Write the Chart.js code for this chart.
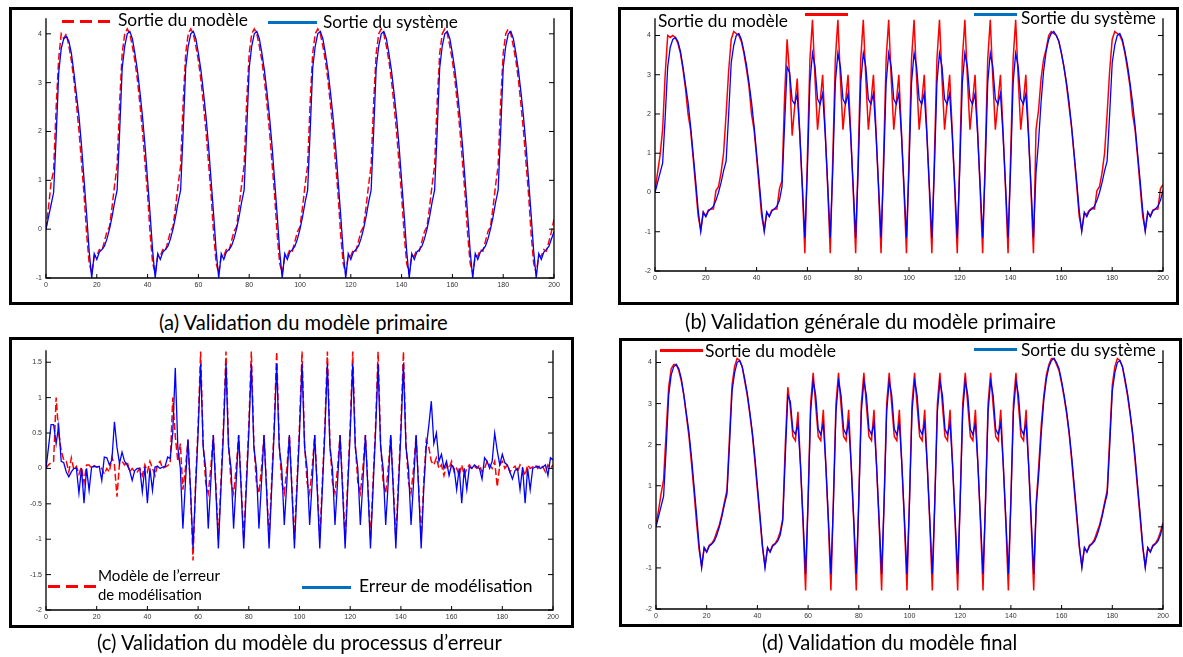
<!DOCTYPE html>
<html lang="fr">
<head>
<meta charset="UTF-8">
<title>Validation des modèles</title>
<script src="https://cdn.jsdelivr.net/npm/chart.js"></script>
<style>
  body { margin: 0; background: #fff; width: 1183px; height: 657px; position: relative; overflow: hidden; font-family: Lato, "Open Sans", sans-serif; }
  .cadre { position: absolute; border: 3px solid #000; box-sizing: border-box; }
  canvas { position: absolute; }
  .txt { position: absolute; white-space: nowrap; line-height: 1; color: #000; transform: translateY(-55%); }
  .trait { position: absolute; height: 3px; }
</style>
</head>
<body>

<div class="cadre" style="left:9px;top:7px;width:564px;height:298px"></div>
<div class="cadre" style="left:618px;top:7px;width:561px;height:298px"></div>
<div class="cadre" style="left:9px;top:337px;width:565px;height:291px"></div>
<div class="cadre" style="left:619px;top:338px;width:563px;height:289px"></div>

<canvas id="chartA"></canvas>
<canvas id="chartB"></canvas>
<canvas id="chartC"></canvas>
<canvas id="chartD"></canvas>

<!-- légendes -->
<div class="trait" style="left:62px;top:20px;width:48px;background:repeating-linear-gradient(to right,#f00 0 12px,transparent 12px 18px)"></div>
<div class="txt" data-w="130" style="left:118px;top:21px">Sortie du modèle</div>
<div class="trait" style="left:268px;top:21px;width:49px;background:#0070c0"></div>
<div class="txt" data-w="135" style="left:323px;top:22px">Sortie du système</div>

<div class="txt" data-w="130" style="left:658px;top:22px">Sortie du modèle</div>
<div class="trait" style="left:805px;top:13px;width:43px;background:#f00"></div>
<div class="trait" style="left:974px;top:13px;width:43px;background:#0070c0"></div>
<div class="txt" data-w="135" style="left:1021px;top:18px">Sortie du système</div>

<div class="trait" style="left:48px;top:585px;width:48px;background:repeating-linear-gradient(to right,#f00 0 12px,transparent 12px 18px)"></div>
<div class="txt" data-w="122" style="left:98px;top:576px">Modèle de l’erreur</div>
<div class="txt" data-w="104" style="left:98px;top:595px">de modélisation</div>
<div class="trait" style="left:302px;top:586px;width:49px;background:#0070c0"></div>
<div class="txt" data-w="174" style="left:359px;top:587px">Erreur de modélisation</div>

<div class="trait" style="left:660px;top:349px;width:43px;background:#f00"></div>
<div class="txt" data-w="131" style="left:705px;top:352px">Sortie du modèle</div>
<div class="trait" style="left:974px;top:348px;width:43px;background:#0070c0"></div>
<div class="txt" data-w="135" style="left:1021px;top:350px">Sortie du système</div>

<!-- légendes des sous-figures -->
<div class="txt legende" style="left:159px;top:323px">(a) Validation du modèle primaire</div>
<div class="txt legende" data-w="372" style="left:685px;top:322px">(b) Validation générale du modèle primaire</div>
<div class="txt legende" style="left:97px;top:643px">(c) Validation du modèle du processus d’erreur</div>
<div class="txt legende" style="left:762px;top:643px">(d) Validation du modèle final</div>

<script>
    // ticks
    const xTicks = [0, 20, 40, 60, 80, 100, 120, 140, 160, 180, 200];
    const yTicksA = [-1, 0, 1, 2, 3, 4];
    const yTicksB = [-2, -1, 0, 1, 2, 3, 4];
    const yTicksC = [-2, -1.5, -1, -0.5, 0, 0.5, 1, 1.5];
    const yTicksD = [-2, -1, 0, 1, 2, 3, 4];

    // (a) sortie du système / du modèle primaire
    const sortieSystemeA = [
        0, 0.25, 0.5, 0.75, 1.9, 3.2, 3.7, 3.9, 3.95, 3.85, 3.6, 3.2, 2.75, 2.3, 1.7, 1.0, 0.3, -0.45, -1.0, -0.5, -0.62, -0.47, -0.42, -0.35, -0.2,
        0, 0.25, 0.55, 0.8, 2.0, 3.3, 3.75, 4.0, 4.05, 3.9, 3.6, 3.25, 2.8, 2.3, 1.7, 1.0, 0.3, -0.45, -1.0, -0.5, -0.62, -0.47, -0.42, -0.35, -0.2,
        0, 0.25, 0.55, 0.8, 2.0, 3.3, 3.75, 4.0, 4.05, 3.9, 3.6, 3.25, 2.8, 2.3, 1.7, 1.0, 0.3, -0.45, -1.0, -0.5, -0.62, -0.47, -0.42, -0.35, -0.2,
        0, 0.25, 0.55, 0.8, 2.0, 3.3, 3.75, 4.0, 4.05, 3.9, 3.6, 3.25, 2.8, 2.3, 1.7, 1.0, 0.3, -0.45, -1.0, -0.5, -0.62, -0.47, -0.42, -0.35, -0.2,
        0, 0.25, 0.55, 0.8, 2.0, 3.3, 3.75, 4.0, 4.05, 3.9, 3.6, 3.25, 2.8, 2.3, 1.7, 1.0, 0.3, -0.45, -1.0, -0.5, -0.62, -0.47, -0.42, -0.35, -0.2,
        0, 0.25, 0.55, 0.8, 2.0, 3.3, 3.75, 4.0, 4.05, 3.9, 3.6, 3.25, 2.8, 2.3, 1.7, 1.0, 0.3, -0.45, -1.0, -0.5, -0.62, -0.47, -0.42, -0.35, -0.2,
        0, 0.25, 0.55, 0.8, 2.0, 3.3, 3.75, 4.0, 4.05, 3.9, 3.6, 3.25, 2.8, 2.3, 1.7, 1.0, 0.3, -0.45, -1.0, -0.5, -0.62, -0.47, -0.42, -0.35, -0.2,
        0, 0.25, 0.55, 0.8, 2.0, 3.3, 3.75, 4.0, 4.05, 3.9, 3.6, 3.25, 2.8, 2.3, 1.7, 1.0, 0.3, -0.45, -1.0, -0.5, -0.62, -0.47, -0.42, -0.35, -0.2,
        -0.05
    ];
    const sortieModeleA = [
        0, 0.45, 0.95, 1.2, 2.5, 3.5, 4.0, 3.9, 4.0, 3.75, 3.45, 3.05, 2.55, 2.0, 1.35, 0.7, -0.1, -0.7, -0.9, -0.55, -0.55, -0.42, -0.45, -0.25, -0.05,
        0.05, 0.45, 0.9, 1.3, 2.6, 3.6, 4.0, 4.1, 4.0, 3.75, 3.45, 3.05, 2.55, 2.0, 1.35, 0.7, -0.1, -0.7, -0.9, -0.55, -0.55, -0.42, -0.45, -0.25, -0.05,
        0.05, 0.45, 0.9, 1.3, 2.6, 3.6, 4.0, 4.1, 4.0, 3.75, 3.45, 3.05, 2.55, 2.0, 1.35, 0.7, -0.1, -0.7, -0.9, -0.55, -0.55, -0.42, -0.45, -0.25, -0.05,
        0.05, 0.45, 0.9, 1.3, 2.6, 3.6, 4.0, 4.1, 4.0, 3.75, 3.45, 3.05, 2.55, 2.0, 1.35, 0.7, -0.1, -0.7, -0.9, -0.55, -0.55, -0.42, -0.45, -0.25, -0.05,
        0.05, 0.45, 0.9, 1.3, 2.6, 3.6, 4.0, 4.1, 4.0, 3.75, 3.45, 3.05, 2.55, 2.0, 1.35, 0.7, -0.1, -0.7, -0.9, -0.55, -0.55, -0.42, -0.45, -0.25, -0.05,
        0.05, 0.45, 0.9, 1.3, 2.6, 3.6, 4.0, 4.1, 4.0, 3.75, 3.45, 3.05, 2.55, 2.0, 1.35, 0.7, -0.1, -0.7, -0.9, -0.55, -0.55, -0.42, -0.45, -0.25, -0.05,
        0.05, 0.45, 0.9, 1.3, 2.6, 3.6, 4.0, 4.1, 4.0, 3.75, 3.45, 3.05, 2.55, 2.0, 1.35, 0.7, -0.1, -0.7, -0.9, -0.55, -0.55, -0.42, -0.45, -0.25, -0.05,
        0.05, 0.45, 0.9, 1.3, 2.6, 3.6, 4.0, 4.1, 4.0, 3.75, 3.45, 3.05, 2.55, 2.0, 1.35, 0.7, -0.1, -0.7, -0.9, -0.55, -0.55, -0.42, -0.45, -0.25, -0.05,
        0.2
    ];

    // (b) et (d) : sortie du système
    const sortieSystemeB = [
        0, 0.25, 0.5, 0.75, 1.9, 3.2, 3.7, 3.9, 3.95, 3.85, 3.6, 3.2, 2.75, 2.3, 1.7, 1.0, 0.3, -0.45, -1.0, -0.5, -0.62, -0.47, -0.42, -0.35, -0.2,
        0, 0.25, 0.55, 0.8, 2.0, 3.3, 3.75, 4.0, 4.05, 3.9, 3.6, 3.25, 2.8, 2.3, 1.7, 1.0, 0.3, -0.45, -1.0, -0.5, -0.62, -0.47, -0.42, -0.35, -0.2,
        0.15, 1.7, 3.2, 3.05, 2.35, 2.25, 2.5, 1.5, 0.2, -1.15,
        0.6, 2.8, 3.55, 3.2, 2.38, 2.25, 2.52, 1.5, 0.2, -1.15,
        0.6, 2.8, 3.55, 3.2, 2.38, 2.25, 2.52, 1.5, 0.2, -1.15,
        0.6, 2.8, 3.55, 3.2, 2.38, 2.25, 2.52, 1.5, 0.2, -1.15,
        0.6, 2.8, 3.55, 3.2, 2.38, 2.25, 2.52, 1.5, 0.2, -1.15,
        0.6, 2.8, 3.55, 3.2, 2.38, 2.25, 2.52, 1.5, 0.2, -1.15,
        0.6, 2.8, 3.55, 3.2, 2.38, 2.25, 2.52, 1.5, 0.2, -1.15,
        0.6, 2.8, 3.55, 3.2, 2.38, 2.25, 2.52, 1.5, 0.2, -1.15,
        0.6, 2.8, 3.55, 3.2, 2.38, 2.25, 2.52, 1.5, 0.2, -1.15,
        0.6, 2.8, 3.55, 3.2, 2.38, 2.25, 2.52, 1.5, 0.2, -1.15,
        0.5, 1.3, 2.3, 3.1, 3.6, 3.9, 4.05, 4.1, 4.0, 3.85, 3.55, 3.2, 2.8, 2.3, 1.7, 1.0, 0.3, -0.45, -1.0, -0.5, -0.62, -0.47, -0.42, -0.35, -0.2,
        0, 0.25, 0.55, 0.8, 2.0, 3.3, 3.75, 4.0, 4.05, 3.9, 3.6, 3.25, 2.8, 2.3, 1.7, 1.0, 0.3, -0.45, -1.0, -0.5, -0.62, -0.47, -0.42, -0.35, -0.2,
        0.05
    ];
    // (b) sortie du modèle primaire
    const sortieModeleB = [
        0.05, 0.5, 0.95, 1.6, 3.0, 4.0, 3.95, 4.0, 3.95, 3.8, 3.55, 3.15, 2.65, 2.0, 1.6, 0.9, 0.15, -0.6, -0.95, -0.5, -0.6, -0.45, -0.42, -0.42, 0.05,
        0.15, 0.5, 1.0, 2.0, 3.1, 3.9, 4.1, 4.05, 4.0, 3.85, 3.55, 3.15, 2.7, 2.0, 1.6, 0.9, 0.15, -0.6, -0.95, -0.5, -0.6, -0.45, -0.42, -0.42, 0.1,
        0.3, 2.4, 3.9, 3.0, 1.45, 2.2, 2.9, 1.5, 0.1, -1.55,
        0.9, 3.4, 4.4, 2.9, 1.6, 2.3, 3.0, 1.6, 0.1, -1.55,
        0.9, 3.4, 4.4, 2.9, 1.6, 2.3, 3.0, 1.6, 0.1, -1.55,
        0.9, 3.4, 4.4, 2.9, 1.6, 2.3, 3.0, 1.6, 0.1, -1.55,
        0.9, 3.4, 4.4, 2.9, 1.6, 2.3, 3.0, 1.6, 0.1, -1.55,
        0.9, 3.4, 4.4, 2.9, 1.6, 2.3, 3.0, 1.6, 0.1, -1.55,
        0.9, 3.4, 4.4, 2.9, 1.6, 2.3, 3.0, 1.6, 0.1, -1.55,
        0.9, 3.4, 4.4, 2.9, 1.6, 2.3, 3.0, 1.6, 0.1, -1.55,
        0.9, 3.4, 4.4, 2.9, 1.6, 2.3, 3.0, 1.6, 0.1, -1.55,
        0.9, 3.4, 4.4, 2.9, 1.6, 2.3, 3.0, 1.6, 0.1, -1.55,
        1.6, 2.1, 2.9, 3.4, 3.65, 4.0, 4.1, 4.05, 4.0, 3.85, 3.55, 3.2, 2.75, 2.2, 1.65, 0.95, 0.2, -0.6, -0.95, -0.55, -0.55, -0.45, -0.4, -0.42, 0.05,
        0.15, 0.5, 1.0, 2.0, 3.1, 3.9, 4.1, 4.05, 4.0, 3.85, 3.55, 3.15, 2.7, 2.0, 1.6, 0.9, 0.15, -0.6, -0.95, -0.5, -0.6, -0.45, -0.42, -0.42, 0.1,
        0.2
    ];

    // (c) erreur de modélisation / modèle de l'erreur
    const erreurC = [
        0, 0.3, 0.62, 0.62, 0.35, 0.6, 0.1, 0.08, -0.05, -0.12, -0.05, 0.0, 0.0, -0.35, 0.0, -0.49, 0.0, -0.31, 0.02, 0.03,
        0.02, 0.03, -0.17, 0.16, 0.15, 0.05, 0.12, 0.66, 0.3, 0.07, 0.23, 0.1, 0.05, -0.03, -0.17, -0.03, 0.0, 0.0, -0.33, 0.02,
        -0.49, 0.0, -0.31, 0.02, 0.03, 0.0, 0.02, 0.03, 0.16, 0.14, 0.5,
        1.42, 0.3, 0.0, -0.85, -0.2, 0.41, -0.3, -1.13, -0.3, 0.5,
        1.48, 0.3, 0.0, -0.85, -0.2, 0.47, -0.3, -1.13, -0.3, 0.5,
        1.48, 0.3, 0.0, -0.85, -0.2, 0.47, -0.3, -1.13, -0.3, 0.5,
        1.48, 0.3, 0.0, -0.85, -0.2, 0.47, -0.3, -1.13, -0.3, 0.5,
        1.48, 0.3, 0.0, -0.8, -0.2, 0.47, -0.3, -1.13, -0.3, 0.5,
        1.48, 0.3, 0.0, -0.8, -0.2, 0.47, -0.3, -1.13, -0.3, 0.5,
        1.48, 0.3, 0.0, -0.8, -0.2, 0.47, -0.3, -1.13, -0.3, 0.5,
        1.48, 0.3, 0.0, -0.8, -0.2, 0.47, -0.3, -1.13, -0.3, 0.5,
        1.48, 0.3, 0.0, -0.8, -0.2, 0.47, -0.3, -1.13, -0.3, 0.5,
        1.48, 0.3, 0.0, -0.8, -0.2, 0.47, -0.3, -1.13, -0.3, 0.3,
        0.6, 0.95, 0.35, 0.5, 0.1, 0.2, 0.0, 0.1, -0.1, 0.05, 0.0, -0.3, 0.0, -0.49, 0.0, -0.3, 0.02, 0.0, 0.05, 0.02,
        0.0, -0.15, 0.15, 0.1, 0.0, 0.1, 0.5, 0.25, 0.05, 0.2, 0.08, 0.05, -0.05, -0.15, -0.03, 0.0, -0.3, 0.02, -0.49, 0.0,
        -0.3, 0.0, 0.02, 0.03, 0.0, 0.02, 0.05, -0.1, 0.15, 0.12
    ];
    const modeleErreurC = [
        0.0, 0.05, 0.08, 0.1, 1.0, 0.5, 0.25, 0.12, 0.1, -0.05, 0.15, -0.02, 0.03, -0.08, 0.02, -0.2, 0.05, 0.05, 0.0, 0.04,
        0.02, 0.03, 0.0, -0.08, 0.0, -0.05, 0.16, 0.05, -0.4, 0.07, 0.1, 0.05, 0.1, -0.05, 0.0, -0.05, -0.05, 0.0, -0.1, 0.05,
        -0.05, 0.1, 0.0, -0.1, 0.05, 0.1, 0.0, 0.02, 0.04, 0.07, 1.0,
        0.45, 0.1, 0.35, -0.3, 0.0, 0.4, -0.3, -1.3, -0.2, 0.6,
        1.65, 0.35, -0.2, -0.35, 0.0, 0.47, -0.25, -1.0, -0.2, 0.6,
        1.65, 0.35, -0.2, -0.35, 0.0, 0.47, -0.25, -1.0, -0.2, 0.6,
        1.65, 0.35, -0.2, -0.35, 0.0, 0.47, -0.25, -1.0, -0.2, 0.6,
        1.65, 0.35, -0.2, -0.35, 0.0, 0.47, -0.25, -1.0, -0.2, 0.6,
        1.65, 0.35, -0.2, -0.35, 0.0, 0.47, -0.25, -1.0, -0.2, 0.6,
        1.65, 0.35, -0.2, -0.35, 0.0, 0.47, -0.25, -1.0, -0.2, 0.6,
        1.65, 0.35, -0.2, -0.35, 0.0, 0.47, -0.25, -1.0, -0.2, 0.6,
        1.65, 0.35, -0.2, -0.35, 0.0, 0.47, -0.25, -1.0, -0.2, 0.6,
        1.65, 0.35, -0.2, -0.35, 0.0, 0.47, -0.25, -1.0, -0.2, 0.4,
        0.3, 0.1, 0.05, 0.15, 0.0, 0.05, -0.1, 0.05, 0.0, 0.1, -0.05, 0.0, -0.1, 0.05, -0.1, 0.0, 0.05, 0.0, 0.03, 0.0,
        0.05, -0.05, 0.0, 0.1, 0.05, 0.0, 0.1, -0.26, 0.05, 0.1, 0.0, 0.05, -0.05, 0.0, 0.03, -0.05, 0.05, 0.0, -0.1, 0.05,
        0.0, 0.02, 0.05, 0.0, 0.05, 0.02, -0.05, 0.05, 0.0, 0.05
    ];

    // (d) sortie du modèle final
    const sortieModeleD = [
        0.05, 0.4, 0.8, 1.15, 2.3, 3.4, 3.85, 3.95, 3.95, 3.8, 3.55, 3.2, 2.7, 2.2, 1.55, 0.85, 0.1, -0.55, -0.95, -0.52, -0.6, -0.45, -0.4, -0.3, -0.12,
        0.05, 0.3, 0.6, 0.9, 2.2, 3.45, 3.9, 4.1, 4.05, 3.9, 3.55, 3.2, 2.75, 2.25, 1.6, 0.9, 0.2, -0.5, -0.95, -0.52, -0.6, -0.45, -0.4, -0.3, -0.12,
        0.2, 2.0, 3.4, 2.9, 2.2, 2.1, 2.8, 1.5, 0.1, -1.55,
        0.7, 3.0, 3.75, 2.95, 2.2, 2.1, 2.85, 1.5, 0.1, -1.55,
        0.7, 3.0, 3.75, 2.95, 2.2, 2.1, 2.85, 1.5, 0.1, -1.55,
        0.7, 3.0, 3.75, 2.95, 2.2, 2.1, 2.85, 1.5, 0.1, -1.55,
        0.7, 3.0, 3.75, 2.95, 2.2, 2.1, 2.85, 1.5, 0.1, -1.55,
        0.7, 3.0, 3.75, 2.95, 2.2, 2.1, 2.85, 1.5, 0.1, -1.55,
        0.7, 3.0, 3.75, 2.95, 2.2, 2.1, 2.85, 1.5, 0.1, -1.55,
        0.7, 3.0, 3.75, 2.95, 2.2, 2.1, 2.85, 1.5, 0.1, -1.55,
        0.7, 3.0, 3.75, 2.95, 2.2, 2.1, 2.85, 1.5, 0.1, -1.55,
        0.7, 3.0, 3.75, 2.95, 2.2, 2.1, 2.85, 1.5, 0.1, -1.55,
        0.6, 1.5, 2.5, 3.2, 3.7, 3.95, 4.1, 4.1, 3.95, 3.8, 3.5, 3.15, 2.75, 2.25, 1.6, 0.9, 0.2, -0.5, -0.95, -0.52, -0.6, -0.45, -0.4, -0.3, -0.12,
        0.05, 0.3, 0.6, 0.9, 2.2, 3.45, 3.9, 4.1, 4.05, 3.9, 3.55, 3.2, 2.75, 2.25, 1.6, 0.9, 0.2, -0.5, -0.95, -0.52, -0.6, -0.45, -0.4, -0.3, -0.12,
        0.1
    ];

    // axes façon matlab : traits noirs, graduations vers l'intérieur
    const axesMatlab = {
        id: 'axesMatlab',
        afterDraw(chart) {
            const { ctx, chartArea: a, scales: { x, y } } = chart;
            ctx.save();
            ctx.strokeStyle = '#000';
            ctx.lineWidth = 1.3;
            ctx.beginPath();
            ctx.moveTo(a.left, a.top);
            ctx.lineTo(a.left, a.bottom);
            ctx.lineTo(a.right, a.bottom);
            ctx.lineTo(a.right, a.top);
            ctx.stroke();
            ctx.lineWidth = 1;
            ctx.beginPath();
            y.ticks.forEach(t => {
                const py = y.getPixelForValue(t.value);
                ctx.moveTo(a.left, py); ctx.lineTo(a.left + 5, py);
                ctx.moveTo(a.right, py); ctx.lineTo(a.right - 5, py);
            });
            x.ticks.forEach(t => {
                const px = x.getPixelForValue(t.value);
                ctx.moveTo(px, a.bottom); ctx.lineTo(px, a.bottom - 4);
            });
            ctx.stroke();
            ctx.restore();
        }
    };

    function points(valeurs) {
        return valeurs.map((v, i) => ({ x: i, y: v }));
    }

    // geo : bords de la zone de tracé dans la page
    function panneau(id, geo, yTicks, yMin, yMax, bleu, rouge, pointille) {
        const gauche = 40, haut = 8, droite = 15, bas = 22;
        const cv = document.getElementById(id);
        const w = geo.r - geo.l + gauche + droite;
        const h = geo.b - geo.t + haut + bas;
        cv.width = w; cv.height = h;
        cv.style.left = (geo.l - gauche) + 'px';
        cv.style.top = (geo.t - haut) + 'px';
        cv.style.width = w + 'px';
        cv.style.height = h + 'px';

        new Chart(cv, {
            type: 'line',
            data: {
                datasets: [{
                    data: points(bleu),
                    borderColor: '#0000ff',
                    borderWidth: 1.3,
                    pointRadius: 0,
                    tension: 0
                }, {
                    data: points(rouge),
                    borderColor: '#ff0000',
                    borderWidth: 1.5,
                    borderDash: pointille ? [7, 3] : [],
                    pointRadius: 0,
                    tension: 0
                }]
            },
            options: {
                responsive: false,
                animation: false,
                events: [],
                layout: { autoPadding: false, padding: { left: 0, top: haut, right: droite, bottom: 0 } },
                plugins: { legend: { display: false }, tooltip: { enabled: false } },
                scales: {
                    x: {
                        type: 'linear', min: 0, max: 200,
                        afterBuildTicks: s => { s.ticks = xTicks.map(v => ({ value: v })); },
                        afterFit: s => { s.height = bas; },
                        grid: { display: false, drawTicks: false },
                        border: { display: false },
                        ticks: { padding: 3, maxRotation: 0, color: '#333', font: { family: 'Liberation Sans', size: 7 }, callback: v => String(v) }
                    },
                    y: {
                        min: yMin, max: yMax,
                        afterBuildTicks: s => { s.ticks = yTicks.map(v => ({ value: v })); },
                        afterFit: s => { s.width = gauche; },
                        grid: { display: false, drawTicks: false },
                        border: { display: false },
                        ticks: { padding: 4, color: '#333', font: { family: 'Liberation Sans', size: 7 }, callback: v => String(v) }
                    }
                }
            },
            plugins: [axesMatlab]
        });
    }

    panneau('chartA', { l: 46, r: 554, t: 18, b: 278 }, yTicksA, -1, 4.32, sortieSystemeA, sortieModeleA, true);
    panneau('chartB', { l: 655, r: 1163, t: 18, b: 271 }, yTicksB, -2, 4.44, sortieSystemeB, sortieModeleB, false);
    panneau('chartC', { l: 46, r: 553, t: 350, b: 610 }, yTicksC, -2, 1.67, erreurC, modeleErreurC, true);
    panneau('chartD', { l: 656, r: 1163, t: 350, b: 609 }, yTicksD, -2, 4.3, sortieSystemeB, sortieModeleD, false);

    // taille des textes ajustée à la largeur mesurée sur la figure
    const mesure = document.createElement('canvas').getContext('2d');
    function largeurTexte(txt, taille) {
        mesure.font = taille + 'px Lato';
        return mesure.measureText(txt).width;
    }
    document.querySelectorAll('.txt[data-w]').forEach(el => {
        const cible = Number(el.dataset.w);
        el.style.fontSize = (100 * cible / largeurTexte(el.textContent, 100)) + 'px';
    });
    const ref = document.querySelector('.legende[data-w]');
    const tailleLegende = ref.style.fontSize;
    document.querySelectorAll('.legende').forEach(el => { el.style.fontSize = tailleLegende; });
</script>

</body>
</html>
